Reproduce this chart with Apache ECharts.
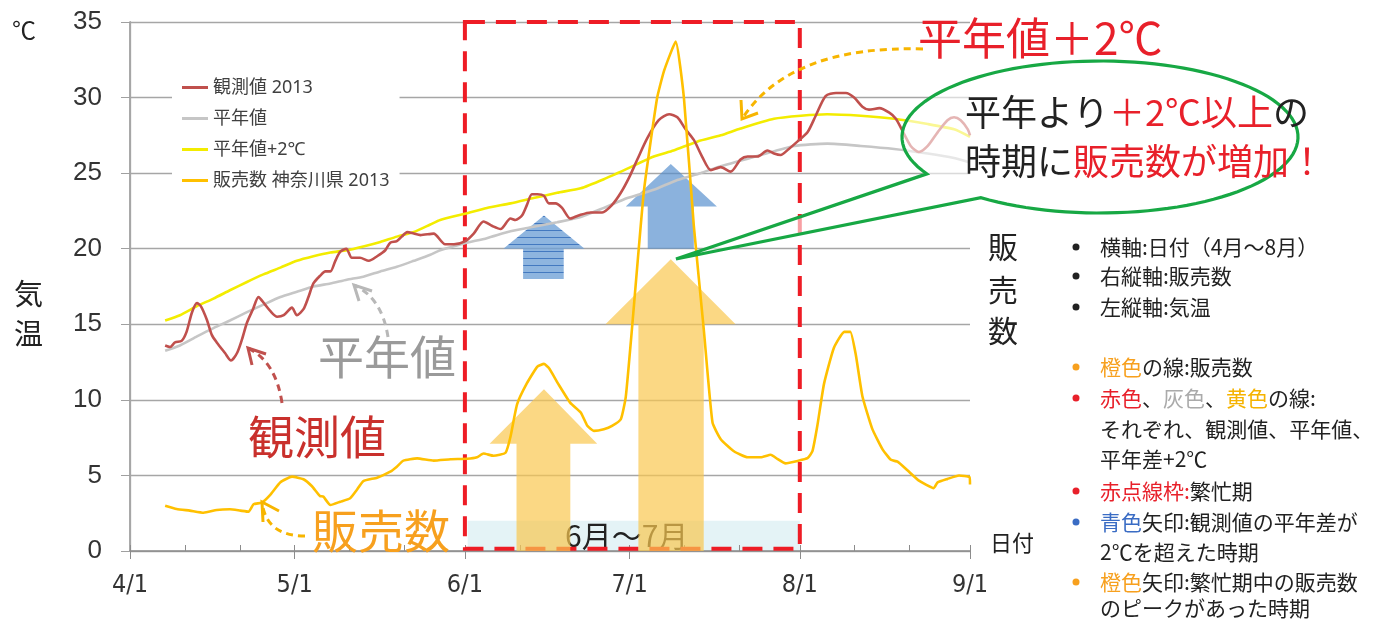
<!DOCTYPE html>
<html>
<head>
<meta charset="utf-8">
<script src="https://cdn.jsdelivr.net/npm/echarts@6/dist/echarts.min.js"></script>
<style>
  html, body { margin: 0; padding: 0; background: #fff; }
  #chart { width: 1386px; height: 620px; }
</style>
</head>
<body>
<div id="chart"></div>
<script>
// x = days since 4/1
const monthDays = [0, 30, 61, 91, 122, 153];
const monthLabels = ['4/1', '5/1', '6/1', '7/1', '8/1', '9/1'];
const tickDays = [0, 10, 20, 30, 40, 50, 61, 71, 81, 91, 101, 111, 122, 132, 142, 153];

// 観測値 2013 (°C)
const obsTemp = [
  [6.4,13.6],[7.3,13.5],[8.2,13.8],[9.4,13.9],[10.3,14.5],[11.3,15.8],[12.2,16.4],[12.9,16.2],
  [14.0,15.3],[14.9,14.3],[15.8,13.8],[17.3,13.1],[18.4,12.6],[19.5,13.1],[20.4,14.0],[21.3,15.1],
  [22.4,16.0],[23.4,16.8],[24.6,16.3],[25.5,15.9],[26.8,15.5],[28.0,15.6],[29.5,16.1],[30.4,15.6],
  [31.6,16.0],[32.5,16.8],[33.4,17.7],[34.6,18.2],[35.6,18.5],[36.5,18.5],[37.4,19.2],[38.3,19.8],
  [39.4,20.0],[40.4,19.4],[41.9,19.4],[43.5,19.2],[45.0,19.5],[46.5,19.9],[47.4,20.4],[48.6,20.5],
  [49.5,20.8],[50.5,21.1],[51.7,21.0],[52.9,20.9],[55.3,21.0],[57.4,20.3],[59.0,20.3],[61.1,20.5],
  [62.6,21.0],[64.4,21.8],[66.0,21.5],[67.5,21.3],[69.3,22.0],[70.2,21.9],[71.4,22.2],[72.3,22.9],
  [73.2,23.6],[74.2,23.6],[75.4,23.5],[76.3,23.0],[77.5,23.0],[78.7,22.7],[80.2,22.0],[81.7,22.2],
  [83.9,22.4],[86.0,22.4],[87.8,22.9],[89.4,23.7],[90.9,24.7],[92.4,25.9],[94.2,27.3],[96.3,28.5],
  [98.2,28.9],[99.7,28.7],[101.2,27.9],[102.7,27.2],[104.2,26.1],[105.8,25.2],[107.6,25.4],[109.4,25.1],
  [111.2,25.9],[112.5,26.1],[114.3,26.1],[116.1,26.5],[117.3,26.3],[118.5,26.2],[120.0,26.6],[121.6,27.1],
  [123.4,27.7],[124.9,28.8],[126.7,30.1],[128.6,30.3],[130.4,30.3],[131.9,30.0],[133.4,29.4],[134.6,29.2],
  [136.5,29.3],[138.3,29.0],[139.5,28.6],[140.7,27.8],[142.2,26.8],[143.7,26.4],[145.3,26.8],[147.1,27.7],
  [148.9,28.5],[150.1,28.7],[151.3,28.5],[152.6,27.9],[153,27.5]
];

// 平年値 (°C)
const normTemp = [
  [6.4,13.25],[9.1,13.6],[12.2,14.2],[15.2,14.75],[18.2,15.25],[21.3,15.8],[24.3,16.3],[27.4,16.8],
  [30.4,17.15],[33.4,17.5],[36.5,17.7],[39.5,17.95],[42.5,18.15],[45.6,18.5],[48.6,18.8],[51.7,19.2],
  [54.7,19.6],[56.5,19.9],[60.8,20.35],[65.0,20.7],[69.3,21.15],[73.5,21.45],[77.8,21.75],[82.1,22.1],
  [86.3,22.7],[90.6,23.35],[95.4,23.9],[99.7,24.55],[103.9,25.0],[107.6,25.45],[114.9,26.2],[121.0,26.8],
  [127.0,26.95],[133.1,26.8],[139.2,26.6],[145.3,26.3],[150.1,26.0],[153,25.7]
];

// 平年値+2℃ (°C)
const normPlus2 = [
  [6.4,15.25],[9.1,15.6],[12.2,16.2],[15.2,16.7],[18.2,17.25],[21.3,17.8],[24.3,18.3],[27.4,18.75],
  [30.4,19.2],[33.4,19.5],[36.5,19.75],[39.5,19.9],[42.5,20.15],[45.6,20.45],[48.6,20.8],[51.7,21.1],
  [54.7,21.6],[56.5,21.9],[60.8,22.3],[65.0,22.7],[69.3,23.0],[73.5,23.35],[77.8,23.7],[82.1,24.0],
  [86.3,24.6],[90.6,25.3],[95.4,26.1],[99.0,26.5],[103.4,27.1],[107.6,27.5],[111.2,27.95],[117.3,28.6],
  [122.2,28.8],[127.0,28.9],[133.1,28.8],[139.2,28.6],[145.3,28.25],[150.1,27.9],[153,27.4]
];

// 販売数 神奈川県 2013 (right axis, same scale as drawn)
const sales = [
  [6.4,3.0],[8.5,2.78],[10.9,2.67],[13.4,2.53],[15.8,2.71],[18.2,2.76],[20.1,2.67],[21.6,2.6],
  [22.5,3.09],[24.0,3.2],[25.5,3.7],[27.4,4.55],[29.5,4.92],[31.6,4.75],[33.1,4.3],[34.6,3.64],
  [35.2,3.6],[36.5,3.04],[38.3,3.26],[40.1,3.49],[41.3,4.04],[42.5,4.63],[45.0,4.85],[47.4,5.25],
  [48.6,5.58],[49.8,5.98],[52.3,6.13],[55.3,5.98],[58.4,6.07],[61.4,6.1],[63.2,6.2],[64.4,6.45],
  [66.2,6.3],[68.4,6.5],[69.3,7.56],[70.5,9.7],[72.3,11.1],[74.2,12.2],[75.4,12.38],[76.3,12.1],
  [78.1,11.0],[80.2,9.8],[82.1,9.17],[83.3,8.28],[84.5,7.95],[86.3,8.06],[87.8,8.28],[89.4,8.72],
  [90.3,10.2],[91.5,15.0],[93.6,23.8],[96.0,29.95],[97.3,31.8],[99.4,33.7],[100.9,29.95],[102.7,21.5],
  [104.5,14.7],[106.1,8.5],[107.6,7.4],[110.0,6.6],[112.5,6.2],[114.9,6.2],[116.7,6.37],[117.9,6.1],
  [119.4,5.8],[121.6,5.96],[123.4,6.14],[124.3,6.6],[125.2,8.3],[126.4,11.04],[128.2,13.43],[130.1,14.5],
  [131.2,14.5],[132.2,12.98],[133.4,10.24],[135.2,8.08],[137.1,6.71],[138.6,6.03],[139.8,5.91],[141.6,5.34],
  [143.7,4.66],[146.4,4.16],[147.1,4.54],[148.9,4.77],[151.0,5.0],[152.9,4.89],[153,4.4]
];

// arrows in data units: [shaftL, shaftR, headL, headR, apexX, apexY, baseY, bottomY]
const orangeArrows = [
  [70.4, 80.2, 65.5, 85.1, 75.4, 10.7, 7.1, 0],
  [92.6, 104.5, 86.6, 110.3, 98.5, 19.3, 15.0, 0]
];
const blueArrows = [
  [71.6, 79.0, 68.0, 82.8, 75.4, 22.2, 20.0, 18.0],
  [94.3, 102.7, 90.3, 106.9, 98.5, 25.6, 22.8, 20.0]
];
// busy period (6/1 - 8/1)
const busyStart = 61, busyEnd = 122;

const JP = 'Noto Sans CJK JP';
const RED = '#e8202a', ORANGE = '#f7a01e', GRAY_T = '#9a9a9a';

const chart = echarts.init(document.getElementById('chart'));

chart.setOption({
  animation: false,
  textStyle: { fontFamily: JP },
  grid: { left: 130, right: 416, top: 22, bottom: 69 },
  legend: {
    orient: 'vertical', left: 172, top: 72,
    backgroundColor: '#fff', padding: [6, 10, 6, 10],
    itemWidth: 26, itemHeight: 3, itemGap: 12, icon: 'rect',
    textStyle: { fontSize: 18, color: '#404040', lineHeight: 19, fontFamily: 'Noto Sans, Noto Sans CJK JP, sans-serif' },
    data: ['観測値 2013', '平年値', '平年値+2℃', '販売数 神奈川県 2013']
  },
  xAxis: [{
    type: 'value', min: 0, max: 153,
    axisLine: { lineStyle: { color: '#8c8c8c', width: 1.5 } },
    axisTick: { inside: true, length: 6, customValues: tickDays, lineStyle: { color: '#8c8c8c' } },
    axisLabel: {
      customValues: monthDays, margin: 22, fontSize: 25, color: '#333',
      fontFamily: 'Liberation Sans Narrow, DejaVu Sans Condensed, sans-serif',
      formatter: v => monthLabels[monthDays.indexOf(Math.round(v))] || ''
    },
    splitLine: { show: false }
  }, {
    type: 'value', min: 0, max: 153, position: 'bottom',
    axisLine: { show: false },
    axisTick: { length: 8, customValues: monthDays, lineStyle: { color: '#8c8c8c' } },
    axisLabel: { show: false }, splitLine: { show: false }
  }],
  yAxis: [{
    type: 'value', min: 0, max: 35, interval: 5,
    axisLine: { show: true, lineStyle: { color: '#8c8c8c', width: 1.5 } },
    axisTick: { show: true, length: 9, lineStyle: { color: '#a0a0a0' } },
    axisLabel: { fontSize: 26, color: '#333', margin: 28, fontFamily: 'Liberation Sans, sans-serif' },
    splitLine: { lineStyle: { color: '#a6a6a6', width: 1.3 } }
  }, {
    type: 'value', min: 0, max: 35, interval: 5, position: 'right',
    axisLine: { show: true, lineStyle: { color: '#a6a6a6', width: 1.3 } },
    axisTick: { show: false }, axisLabel: { show: false }, splitLine: { show: false }
  }],
  series: [{
    name: '平年値', type: 'line', data: normTemp, showSymbol: false, smooth: 0.2,
    lineStyle: { color: '#c6c6c6', width: 2.6 }, itemStyle: { color: '#c6c6c6' }, z: 3
  }, {
    name: '平年値+2℃', type: 'line', data: normPlus2, showSymbol: false, smooth: 0.2,
    lineStyle: { color: '#f3ec00', width: 2.6 }, itemStyle: { color: '#f3ec00' }, z: 3
  }, {
    name: '観測値 2013', type: 'line', data: obsTemp, showSymbol: false, smooth: 0.25,
    lineStyle: { color: '#c0504d', width: 2.6 }, itemStyle: { color: '#c0504d' }, z: 4
  }, {
    name: '販売数 神奈川県 2013', type: 'line', yAxisIndex: 1, data: sales, showSymbol: false, smooth: 0.15,
    lineStyle: { color: '#ffc000', width: 2.6 }, itemStyle: { color: '#ffc000' }, z: 5,
    markArea: {
      silent: true,
      data: [
        [{ xAxis: busyStart, yAxis: 35, itemStyle: { color: 'rgba(0,0,0,0)', borderColor: '#ee1c25', borderWidth: 4, borderType: [20, 11] } },
         { xAxis: busyEnd, yAxis: 0.15 }]
      ]
    }
  }]
});

const toPx = (x, y) => chart.convertToPixel({ gridIndex: 0 }, [x, y]);

function arrowShape(a) {
  return [toPx(a[2], a[6]), toPx(a[4], a[5]), toPx(a[3], a[6]), toPx(a[1], a[6]),
          toPx(a[1], a[7]), toPx(a[0], a[7]), toPx(a[0], a[6])];
}

// striped fill for the first blue arrow
const stripe = document.createElement('canvas');
stripe.width = 8; stripe.height = 7;
const sc = stripe.getContext('2d');
sc.fillStyle = 'rgba(110,160,214,0.78)'; sc.fillRect(0, 0, 8, 7);
sc.fillStyle = 'rgba(60,115,190,0.9)'; sc.fillRect(0, 6, 8, 1);

// speech bubble outline
const bubbleTip = [676, 259];
const bubblePts = [bubbleTip];
for (let t = 151; t <= 487; t += 3) {
  const r = t * Math.PI / 180;
  bubblePts.push([1100 + 198 * Math.cos(r), 137 + 76 * Math.sin(r)]);
}

function dashedArrow(start, cp, end, head1, head2, color) {
  return [{
    type: 'bezierCurve', z: 6,
    shape: { x1: start[0], y1: start[1], cpx1: cp[0], cpy1: cp[1], x2: end[0], y2: end[1] },
    style: { stroke: color, lineWidth: 3, lineDash: [7, 5], fill: null }
  }, {
    type: 'polyline', z: 6,
    shape: { points: [head1, end, head2] },
    style: { stroke: color, lineWidth: 3, fill: null }
  }];
}

function txt(x, y, text, size, color, extra) {
  return Object.assign({
    type: 'text', x: x, y: y, z: 7,
    style: { text: text, fontSize: size, fill: color, fontFamily: JP, verticalAlign: 'middle' }
  }, extra || {});
}

const notes = [
  [247, '#222', '{k|横軸:日付（4月～8月）}'],
  [276, '#222', '{k|右縦軸:販売数}'],
  [307, '#222', '{k|左縦軸:気温}'],
  [367, ORANGE, '{o|橙色}{k|の線:販売数}'],
  [398, RED, '{r|赤色}{k|、}{g|灰色}{k|、}{y|黄色}{k|の線:}'],
  [429, null, '{k|それぞれ、観測値、平年値、}'],
  [459, null, '{k|平年差+2℃}'],
  [491, RED, '{r|赤点線枠:}{k|繁忙期}'],
  [522, '#3a6cc4', '{b|青色}{k|矢印:観測値の平年差が}'],
  [552, null, '{k|2℃を超えた時期}'],
  [582, ORANGE, '{o|橙色}{k|矢印:繁忙期中の販売数}'],
  [608, null, '{k|のピークがあった時期}']
];
const noteRich = {
  k: { fill: '#222', fontSize: 21, fontFamily: JP },
  o: { fill: ORANGE, fontSize: 21, fontFamily: JP },
  r: { fill: RED, fontSize: 21, fontFamily: JP },
  g: { fill: '#aaaaaa', fontSize: 21, fontFamily: JP },
  y: { fill: '#f5b300', fontSize: 21, fontFamily: JP },
  b: { fill: '#3a6cc4', fontSize: 21, fontFamily: JP }
};

const elements = [];

// light band along the bottom of the busy period
const bandTL = toPx(busyStart + 0.5, 2), bandBR = toPx(busyEnd, 0);
elements.push({
  type: 'rect', z: 0,
  shape: { x: bandTL[0], y: bandTL[1], width: bandBR[0] - bandTL[0], height: bandBR[1] - bandTL[1] },
  style: { fill: 'rgba(205,233,238,0.55)' }
});
elements.push(txt(565, 536, '6月～7月', 30, '#222', { z: 0.5 }));

orangeArrows.forEach(a => elements.push({
  type: 'polygon', z: 1, shape: { points: arrowShape(a) }, style: { fill: 'rgba(250,200,80,0.7)' }
}));
blueArrows.forEach((a, i) => elements.push({
  type: 'polygon', z: 1, shape: { points: arrowShape(a) },
  style: { fill: i === 0 ? { image: stripe, repeat: 'repeat' } : 'rgba(84,141,205,0.68)' }
}));

elements.push(...dashedArrow([923, 49], [790, 45], [742, 119], [741, 100], [758, 113], '#f7b500'));
elements.push(...dashedArrow([388, 337], [382, 298], [354, 285], [359, 301], [372, 291], '#b8b8b8'));
elements.push(...dashedArrow([282, 403], [276, 362], [248, 348], [252, 365], [266, 354], '#c0504d'));
elements.push(...dashedArrow([305, 536], [266, 536], [262, 502], [263, 522], [279, 511], '#f7b500'));

elements.push(txt(318, 357, '平年値', 46, GRAY_T));
elements.push(txt(248, 437, '観測値', 46, '#c9302c'));
elements.push(txt(312, 531, '販売数', 46, '#f7a01e'));

elements.push({
  type: 'polygon', z: 9, shape: { points: bubblePts },
  style: { fill: 'rgba(255,255,255,0.58)', stroke: '#17a844', lineWidth: 3.2 }
});
elements.push(txt(918, 38, '平年値＋2℃', 44, RED, { z: 10 }));
elements.push({
  type: 'text', x: 965, y: 112, z: 10,
  style: {
    text: '{k|平年より}{r|＋2℃以上}{k|の}', verticalAlign: 'middle',
    rich: { k: { fill: '#222', fontSize: 36, fontFamily: JP }, r: { fill: RED, fontSize: 36, fontFamily: JP } }
  }
});
elements.push({
  type: 'text', x: 965, y: 161, z: 10,
  style: {
    text: '{k|時期に}{r|販売数が増加！}', verticalAlign: 'middle',
    rich: { k: { fill: '#222', fontSize: 36, fontFamily: JP }, r: { fill: RED, fontSize: 36, fontFamily: JP } }
  }
});

// axis captions
elements.push(txt(12, 30, '℃', 24, '#222'));
elements.push(txt(14, 294, '気', 29, '#222'));
elements.push(txt(14, 334, '温', 29, '#222'));
elements.push(txt(988, 247, '販', 30, '#222'));
elements.push(txt(988, 290, '売', 30, '#222'));
elements.push(txt(988, 331, '数', 30, '#222'));
elements.push(txt(990, 543, '日付', 22, '#222'));

notes.forEach(n => {
  if (n[1]) elements.push({ type: 'circle', z: 7, shape: { cx: 1076, cy: n[0], r: 3.5 }, style: { fill: n[1] } });
  elements.push({
    type: 'text', x: 1100, y: n[0], z: 7,
    style: { text: n[2], rich: noteRich, verticalAlign: 'middle' }
  });
});

chart.setOption({ graphic: { elements: elements } });
</script>
</body>
</html>
